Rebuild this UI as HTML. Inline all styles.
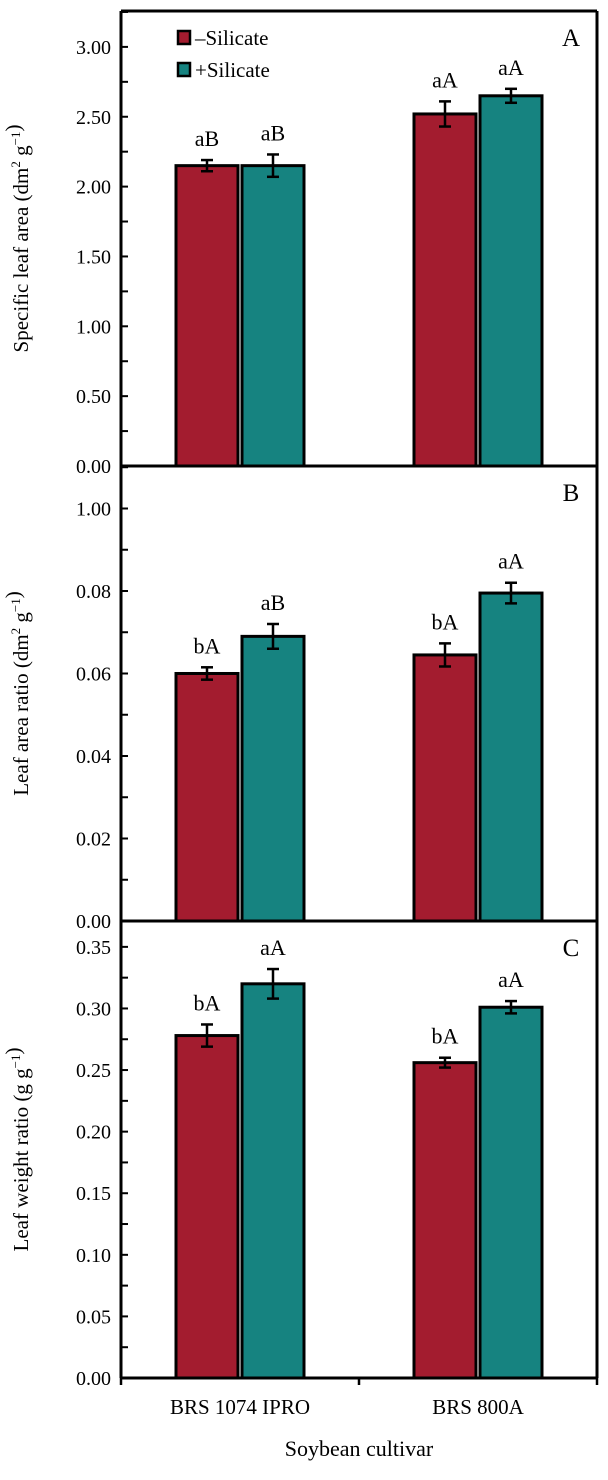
<!DOCTYPE html>
<html><head><meta charset="utf-8"><style>
body{margin:0;background:#fff}
svg text{font-family:"Liberation Serif","Times New Roman",serif;fill:#000}
</style></head><body>
<svg id="c" width="608" height="1475" xmlns="http://www.w3.org/2000/svg" font-family="Liberation Serif, serif"></svg>
<script>
const categories=["BRS 1074 IPRO","BRS 800A"];
const seriesNames=["\u2013Silicate","+Silicate"];
const colors=["#a31c2f","#168380"];
const slaVals=[[2.15,2.52],[2.15,2.65]];
const slaErr=[[0.04,0.09],[0.08,0.05]];
const slaLetters=[["aB","aA"],["aB","aA"]];
const larVals=[[0.060,0.0645],[0.069,0.0795]];
const larErr=[[0.0015,0.0028],[0.003,0.0025]];
const larLetters=[["bA","bA"],["aB","aA"]];
const lwrVals=[[0.278,0.256],[0.320,0.301]];
const lwrErr=[[0.009,0.004],[0.012,0.005]];
const lwrLetters=[["bA","bA"],["aA","aA"]];
const slaTicks=["0.00","0.50","1.00","1.50","2.00","2.50","3.00"];
const larTicks=["0.00","0.02","0.04","0.06","0.08","1.00"];
const lwrTicks=["0.00","0.05","0.10","0.15","0.20","0.25","0.30","0.35"];

const svg=document.getElementById('c');
const NS="http://www.w3.org/2000/svg";
function el(t,a,p){const e=document.createElementNS(NS,t);for(const k in a)e.setAttribute(k,a[k]);(p||svg).appendChild(e);return e;}
const L=121,R=597;
function xc(i){return L+(R-L)*(0.25+0.5*i);}
function panel(name,top,bot,max,step,minor,ticks,vals,errs,letters,label,ylab,unit){
  const g=el('g',{});
  
  
  const y=v=>bot-(v/max)*(bot-top);
  for(let s=0;s<2;s++)for(let i=0;i<2;i++){
    const v=vals[s][i],e=errs[s][i];
    const x0=s==0?xc(i)-64:xc(i)+2;
    const b=el('rect',{x:x0,y:y(v),width:62,height:bot-y(v),fill:colors[s],stroke:'#000','stroke-width':3},g);
    
    
    const cx=x0+31;
    el('line',{x1:cx,x2:cx,y1:y(v-e),y2:y(v+e),stroke:'#000','stroke-width':2.5},g);
    el('line',{x1:cx-6,x2:cx+6,y1:y(v-e),y2:y(v-e),stroke:'#000','stroke-width':2.5},g);
    el('line',{x1:cx-6,x2:cx+6,y1:y(v+e),y2:y(v+e),stroke:'#000','stroke-width':2.5},g);
    const t=el('text',{x:cx,y:y(v+e)-14,'text-anchor':'middle','font-size':22},g);
    t.textContent=letters[s][i];
    
    
  }
  el('line',{x1:L,x2:L,y1:top,y2:bot,stroke:'#000','stroke-width':3},g);
  el('line',{x1:L,x2:R,y1:bot,y2:bot,stroke:'#000','stroke-width':3},g);
  el('line',{x1:R,x2:R,y1:top,y2:bot,stroke:'#000','stroke-width':3},g);
  el('line',{x1:L,x2:R,y1:top,y2:top,stroke:'#000','stroke-width':3},g);
  for(let v=0;v<=max+1e-9;v+=minor){el('line',{x1:L,x2:L+7,y1:y(v),y2:y(v),stroke:'#000','stroke-width':2},g);}
  ticks.forEach((t,i)=>{const tt=el('text',{x:L-10,y:y(i*step)+7,'text-anchor':'end','font-size':20},g);tt.textContent=t;
    });
  const pl=el('text',{x:571,y:top+35,'text-anchor':'middle','font-size':25},g);pl.textContent=label;
  
  const cy=(top+bot)/2;
  const yl=el('text',{x:0,y:0,'text-anchor':'middle','font-size':21,transform:`translate(28,${cy}) rotate(-90)`},g);
  
  yl.innerHTML=ylab+' ('+unit+')';
}
panel('panel-a',11,466,3.257,0.5,0.25,slaTicks,slaVals,slaErr,slaLetters,'A','Specific leaf area','dm<tspan font-size="13" dy="-8">2</tspan><tspan dy="8"> g</tspan><tspan font-size="13" dy="-8">\u22121</tspan><tspan dy="8"></tspan>');
panel('panel-b',466,921,0.1103,0.02,0.01,larTicks,larVals,larErr,larLetters,'B','Leaf area ratio','dm<tspan font-size="13" dy="-8">2</tspan><tspan dy="8"> g</tspan><tspan font-size="13" dy="-8">\u22121</tspan><tspan dy="8"></tspan>');
panel('panel-c',921,1378,0.3710,0.05,0.025,lwrTicks,lwrVals,lwrErr,lwrLetters,'C','Leaf weight ratio','g g<tspan font-size="13" dy="-8">\u22121</tspan><tspan dy="8"></tspan>');
[L,(L+R)/2,R].forEach(x=>el('line',{x1:x,x2:x,y1:1378,y2:1385,stroke:'#000','stroke-width':2.5}));
categories.forEach((c,i)=>{const t=el('text',{x:xc(i),y:1414,'text-anchor':'middle','font-size':21});t.textContent=c;
  });
const xt=el('text',{x:L+(R-L)/2,y:1456,'text-anchor':'middle','font-size':22});xt.textContent='Soybean cultivar';

seriesNames.forEach((n,i)=>{
  const g=el('g',{});
  
  
  const yy=31+i*32;
  el('rect',{x:178,y:yy,width:12,height:13,fill:colors[i],stroke:'#000','stroke-width':2.5},g);
  const t=el('text',{x:195,y:yy+14,'font-size':21},g);t.textContent=n;
});
</script>
</body></html>
